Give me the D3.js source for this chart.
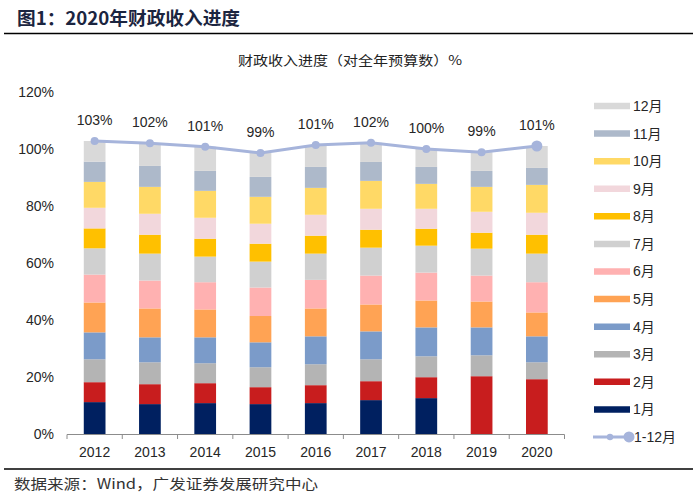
<!DOCTYPE html>
<html>
<head>
<meta charset="utf-8">
<script src="https://cdn.jsdelivr.net/npm/d3@7"></script>
<style>
  html, body { margin: 0; padding: 0; background: #fff; }
  svg { display: block; }
  text { font-family: "Liberation Sans", Arial, "Noto Sans CJK SC", sans-serif; }
  .cjk { font-family: "Noto Sans CJK SC", "Liberation Sans", sans-serif; }
</style>
</head>
<body>
<svg id="chart" width="693" height="498"></svg>
<script>
// ---- data (percent of full-year budget, monthly increments) ----
const years = ["2012","2013","2014","2015","2016","2017","2018","2019","2020"];
const monthNames = ["1月","2月","3月","4月","5月","6月","7月","8月","9月","10月","11月","12月"];
const m1  = [11.19, 10.49, 10.84, 10.49, 10.84, 11.89, 12.59, 0, 0];
const m2  = [6.99, 6.99, 6.99, 5.94, 6.29, 6.64, 7.34, 20.28, 19.23];
const m3  = [8.04, 7.69, 7.00, 7.00, 7.35, 7.69, 7.34, 7.34, 5.94];
const m4  = [9.44, 8.75, 9.09, 8.74, 9.79, 9.79, 10.14, 9.79, 9.10];
const m5  = [10.49, 10.14, 9.79, 9.23, 9.79, 9.44, 9.44, 9.09, 8.39];
const m6  = [9.79, 9.79, 9.55, 10.00, 10.02, 10.14, 9.79, 9.09, 10.60];
const m7  = [9.21, 9.44, 8.98, 9.09, 9.21, 9.79, 9.44, 9.44, 10.03];
const m8  = [6.99, 6.64, 6.29, 6.29, 6.29, 6.30, 5.95, 5.60, 6.64];
const m9  = [7.23, 7.34, 7.34, 7.00, 7.34, 7.34, 6.99, 7.34, 7.69];
const m10 = [9.09, 9.44, 9.44, 9.44, 9.44, 9.79, 8.74, 8.74, 9.79];
const m11 = [7.11, 7.35, 7.00, 6.99, 7.35, 6.64, 5.95, 5.60, 5.95];
const m12 = [7.23, 7.94, 8.49, 8.39, 7.69, 6.75, 6.29, 6.59, 7.69];
const total = [102.8, 102.0, 100.8, 98.6, 101.4, 102.2, 100.0, 98.9, 101.05]; // 1-12月
const yTicks = [0, 20, 40, 60, 80, 100, 120];

const monthly = [m1,m2,m3,m4,m5,m6,m7,m8,m9,m10,m11,m12];
const colors = ["#002060","#C81D1E","#B4B4B4","#7B9BC9","#FFA354","#FFB1B1",
                "#D0D0D0","#FFC000","#F2D7DC","#FFD966","#ADB9CA","#D9D9D9"];
const lineColor = "#A6B4DB";

const svg = d3.select("#chart");

// Title
svg.append("text").attr("class","cjk")
  .attr("x", 17).attr("y", 25)
  .attr("font-size", 18).attr("font-weight", 700).attr("fill", "#1b2540")
  .attr("textLength", 223).attr("lengthAdjust", "spacingAndGlyphs")
  .text("图1：2020年财政收入进度");
svg.append("line").attr("x1", 4).attr("x2", 693).attr("y1", 33.5).attr("y2", 33.5)
  .attr("stroke", "#000").attr("stroke-width", 1.3);

// Subtitle
svg.append("text").attr("class","cjk")
  .attr("x", 238).attr("y", 65)
  .attr("font-size", 13).attr("fill", "#222")
  .attr("textLength", 224).attr("lengthAdjust", "spacingAndGlyphs")
  .text("财政收入进度（对全年预算数）%");

// Scales
const x = d3.scaleBand().domain(years).range([67, 564.5]).padding(0);
const y = d3.scaleLinear().domain([0, 120]).range([434, 92]);
const bw = x.bandwidth() * 0.393;
const bx = d => x(d) + (x.bandwidth() - bw) / 2;
const cx = d => x(d) + x.bandwidth() / 2;

// Stack
const rows = years.map((yr, i) => {
  const o = { year: yr };
  monthNames.forEach((m, k) => o[m] = monthly[k][i]);
  return o;
});
const stack = d3.stack().keys(monthNames)(rows);

const g = svg.append("g");
g.selectAll("g.layer").data(stack).join("g")
  .attr("class", "layer")
  .attr("fill", (d, k) => colors[k])
  .selectAll("rect").data(d => d).join("rect")
  .attr("x", d => bx(d.data.year))
  .attr("width", bw)
  .attr("y", d => y(d[1]))
  .attr("height", d => Math.max(0, y(d[0]) - y(d[1])));

// Y axis labels
svg.append("g").selectAll("text").data(yTicks).join("text")
  .attr("x", 54).attr("y", d => y(d) + 5)
  .attr("text-anchor", "end").attr("font-size", 14).attr("fill", "#262626")
  .text(d => d + "%");

// X axis
const axisColor = "#8C8C8C";
svg.append("line").attr("x1", x.range()[0]).attr("x2", x.range()[1])
  .attr("y1", 434.5).attr("y2", 434.5).attr("stroke", axisColor).attr("stroke-width", 1);
const tickPos = years.map(d => x(d)).concat([x.range()[1]]);
svg.append("g").selectAll("line").data(tickPos).join("line")
  .attr("x1", d => d).attr("x2", d => d).attr("y1", 434.5).attr("y2", 439)
  .attr("stroke", axisColor);
svg.append("g").selectAll("text").data(years).join("text")
  .attr("x", d => cx(d)).attr("y", 457)
  .attr("text-anchor", "middle").attr("font-size", 14).attr("fill", "#262626")
  .text(d => d);

// Line 1-12月
const line = d3.line().x((d, i) => cx(years[i])).y(d => y(d));
svg.append("path").datum(total).attr("d", line)
  .attr("fill", "none").attr("stroke", lineColor).attr("stroke-width", 3);
svg.append("g").selectAll("circle").data(total).join("circle")
  .attr("cx", (d, i) => cx(years[i])).attr("cy", d => y(d))
  .attr("r", (d, i) => i === total.length - 1 ? 5.5 : 4)
  .attr("fill", lineColor);
svg.append("g").selectAll("text").data(total).join("text")
  .attr("x", (d, i) => cx(years[i])).attr("y", d => y(d) - 16)
  .attr("text-anchor", "middle").attr("font-size", 14).attr("fill", "#262626")
  .text(d => d3.format(".0f")(d) + "%");

// Legend
const lg = svg.append("g");
const legY = k => 106 + (11 - k) * 27.58;
monthNames.forEach((m, k) => {
  lg.append("line").attr("x1", 594).attr("x2", 630)
    .attr("y1", legY(k)).attr("y2", legY(k))
    .attr("stroke", colors[k]).attr("stroke-width", 6.5);
  lg.append("text").attr("x", 633).attr("y", legY(k) + 5)
    .attr("font-size", 14).attr("fill", "#262626").text(m);
});
const ly = 106 + 12 * 27.58;
lg.append("line").attr("x1", 593).attr("x2", 629).attr("y1", ly).attr("y2", ly)
  .attr("stroke", lineColor).attr("stroke-width", 3);
lg.append("circle").attr("cx", 610).attr("cy", ly).attr("r", 3.2).attr("fill", lineColor);
lg.append("circle").attr("cx", 629).attr("cy", ly).attr("r", 5.5).attr("fill", lineColor);
lg.append("text").attr("x", 634).attr("y", ly + 5)
  .attr("font-size", 14).attr("fill", "#262626").text("1-12月");

// Footer
svg.append("line").attr("x1", 4).attr("x2", 693).attr("y1", 469).attr("y2", 469)
  .attr("stroke", "#000").attr("stroke-width", 1.3);
svg.append("text").attr("class","cjk")
  .attr("x", 14).attr("y", 489)
  .attr("font-size", 14).attr("fill", "#333")
  .attr("textLength", 304).attr("lengthAdjust", "spacingAndGlyphs")
  .text("数据来源：Wind，广发证券发展研究中心");
</script>
</body>
</html>
